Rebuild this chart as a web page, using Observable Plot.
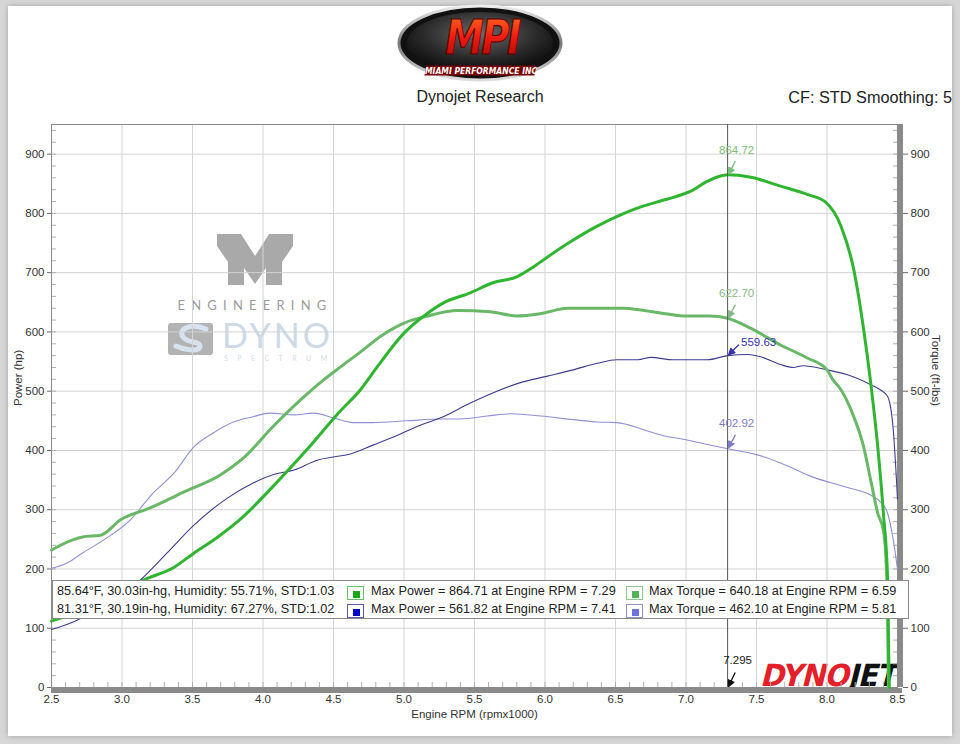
<!DOCTYPE html>
<html>
<head>
<meta charset="utf-8">
<script src="https://cdn.jsdelivr.net/npm/d3@7"></script>
<script src="https://cdn.jsdelivr.net/npm/@observablehq/plot@0.6"></script>
<style>
html,body{margin:0;padding:0;background:#d6d6d6;}
#page{position:relative;width:960px;height:744px;overflow:hidden;font-family:"Liberation Sans",Arial,sans-serif;color:#222;}
#card{position:absolute;left:8px;top:6px;width:944px;height:730px;background:#fff;box-shadow:0 0 5px rgba(0,0,0,.25);}
#header{position:absolute;left:0;top:0;width:960px;height:120px;}
#title{position:absolute;left:0;width:960px;top:88px;text-align:center;font-size:16px;}
#cf{position:absolute;right:8px;top:88px;font-size:16.3px;}
#watermark{position:absolute;left:0;top:0;}
#chart{position:absolute;left:0;top:120px;}
#legend{position:absolute;left:52px;top:580px;width:855px;height:37px;background:#fff;border:1px solid #8a8a8a;font-size:12.7px;color:#222;}
#legend span{position:absolute;white-space:nowrap;}
.sw{position:absolute;width:17px;height:14px;box-sizing:border-box;background:#fff;}
.sw i{position:absolute;left:5px;top:3.5px;width:7px;height:7px;}
#dynojet{position:absolute;left:758px;top:659px;font-family:"DejaVu Sans",sans-serif;font-weight:bold;font-size:29px;letter-spacing:-1px;transform:skewX(-14deg) scaleY(1.05);transform-origin:left bottom;}
</style>
</head>
<body>
<div id="page">
  <div id="card"></div>
  <div id="header">
    <svg width="170" height="82" style="position:absolute;left:396px;top:2px">
      <defs>
        <radialGradient id="gIn" cx="50%" cy="35%" r="65%"><stop offset="0" stop-color="#6a6a6a"/><stop offset="0.6" stop-color="#2a2a2a"/><stop offset="1" stop-color="#0a0a0a"/></radialGradient>
        <linearGradient id="gRed" x1="0" y1="0" x2="0" y2="1"><stop offset="0" stop-color="#ff7a20"/><stop offset="0.5" stop-color="#f01c10"/><stop offset="1" stop-color="#a00000"/></linearGradient>
        <linearGradient id="gRim" x1="0" y1="0" x2="0" y2="1"><stop offset="0" stop-color="#eee"/><stop offset="0.5" stop-color="#777"/><stop offset="1" stop-color="#ddd"/></linearGradient>
      </defs>
      <ellipse cx="84" cy="41" rx="81" ry="37" fill="#111" stroke="url(#gRim)" stroke-width="3"/>
      <ellipse cx="84" cy="41" rx="73" ry="31" fill="url(#gIn)"/>
      <text x="86" y="52" text-anchor="middle" font-family="DejaVu Sans" font-weight="bold" font-style="italic" font-size="44" fill="url(#gRed)" stroke="#5a0000" stroke-width="1" transform="translate(86 52) scale(0.88 1.1) translate(-86 -52)" letter-spacing="-3">MPI</text>
      <rect x="30" y="63.5" width="110" height="10" fill="#7a0000" transform="skewX(-12) translate(14 0)"/>
      <text x="85" y="72.5" text-anchor="middle" font-family="DejaVu Sans" font-weight="bold" font-style="italic" font-size="8.5" fill="#fff" transform="translate(85 72) scale(0.9 1) translate(-85 -72)">MIAMI PERFORMANCE INC</text>
    </svg>
    <div id="title">Dynojet Research</div>
    <div id="cf">CF: STD Smoothing: 5</div>
  </div>
  <svg id="watermark" width="960" height="744">
    <polygon points="217,234 241,234 255,256 269,234 293,234 293,246 282,262 282,285 266,285 266,268 255,284 244,268 244,285 228,285 228,262 217,246" fill="#a9a9a9"/>
    <text x="255" y="310" text-anchor="middle" font-family="Lato,'Liberation Sans',sans-serif" font-size="13" letter-spacing="6.2" fill="#9b9b9b">ENGINEERING</text>
    <rect x="168" y="323" width="45" height="32" rx="3" fill="#b3b3b3"/>
    <path d="M206,329 C190,322 176,330 184,338 C190,344 200,340 200,347 C198,352 184,350 176,346" fill="none" stroke="#d6e2ee" stroke-width="5" stroke-linecap="round"/>
    <text x="222" y="348" font-family="Lato,'Liberation Sans',sans-serif" font-size="34" letter-spacing="3" fill="#cdd9e6">DYNO</text>
    <text x="224" y="361" font-family="Lato,'Liberation Sans',sans-serif" font-size="7" letter-spacing="9.5" fill="#d2dde8">SPECTRUM</text>
  </svg>
  <div id="dynojet"><span style="color:#e3202a">DYNO</span><span style="color:#111">JET</span></div>
  <div id="chart"></div>
  <div id="legend"></div>
</div>
<script>
// ---- data ----
const xTicks = [2.5, 3.0, 3.5, 4.0, 4.5, 5.0, 5.5, 6.0, 6.5, 7.0, 7.5, 8.0, 8.5];
const yTicks = [0, 100, 200, 300, 400, 500, 600, 700, 800, 900];

// Run 1 power (hp) - bright green
const p1Rpm = [2.5, 2.6, 2.75, 2.9, 3.0, 3.15, 3.37, 3.5, 3.68, 3.84, 4.07, 4.31, 4.55, 4.69, 4.81, 5.0, 5.17, 5.28, 5.47, 5.63, 5.8, 5.92, 6.04, 6.18, 6.35, 6.54, 6.68, 6.82, 6.91, 7.03, 7.15, 7.295, 7.46, 7.67, 7.86, 7.99, 8.1, 8.19, 8.26, 8.31, 8.36, 8.4, 8.43, 8.437, 8.442];
const p1Hp  = [112, 120, 135, 150, 162, 181, 203, 225, 254, 284, 339, 401, 467, 502, 541, 598, 632, 649, 666, 683, 693, 710, 730, 752, 776, 798, 811, 821, 827, 837, 854, 865, 861, 846, 832, 819, 778, 705, 604, 514, 406, 294, 181, 68, 0];

// Run 1 torque (ft-lbs) - medium green
const t1Rpm = [2.5, 2.65, 2.72, 2.85, 2.99, 3.2, 3.44, 3.7, 3.86, 4.07, 4.27, 4.43, 4.55, 4.69, 4.83, 5.0, 5.17, 5.38, 5.61, 5.8, 5.97, 6.16, 6.35, 6.56, 6.68, 6.82, 6.98, 7.17, 7.295, 7.46, 7.67, 7.86, 8.0, 8.04, 8.1, 8.18, 8.26, 8.31, 8.36, 8.4, 8.42, 8.43, 8.435];
const t1Tq  = [232, 249, 254, 257, 283, 303, 330, 359, 387, 440, 486, 519, 541, 566, 592, 615, 627, 636, 634, 627, 631, 640, 640, 640, 637, 632, 627, 627, 623, 606, 578, 556, 536, 520, 502, 463, 406, 350, 294, 265, 210, 125, 0];

// Run 2 power (hp) - navy
const p2Rpm = [2.5, 2.65, 2.72, 2.85, 3.0, 3.13, 3.32, 3.51, 3.75, 3.93, 4.07, 4.22, 4.39, 4.5, 4.62, 4.78, 4.93, 5.12, 5.26, 5.47, 5.63, 5.82, 6.01, 6.2, 6.37, 6.51, 6.66, 6.75, 6.91, 7.15, 7.295, 7.44, 7.53, 7.67, 7.76, 7.83, 8.0, 8.14, 8.31, 8.38, 8.43, 8.47, 8.5];
const p2Hp  = [98, 110, 118, 135, 155, 181, 227, 274, 320, 345, 359, 367, 384, 389, 394, 409, 423, 443, 455, 480, 497, 514, 525, 536, 547, 553, 553, 557, 553, 553, 560, 562, 558, 545, 540, 543, 536, 528, 511, 502, 491, 435, 318];

// Run 2 torque (ft-lbs) - lavender
const t2Rpm = [2.5, 2.61, 2.72, 2.89, 3.06, 3.22, 3.37, 3.51, 3.65, 3.79, 3.93, 4.05, 4.22, 4.36, 4.5, 4.64, 4.78, 5.02, 5.26, 5.4, 5.59, 5.76, 5.97, 6.2, 6.37, 6.51, 6.7, 6.82, 7.0, 7.15, 7.295, 7.5, 7.67, 7.9, 8.14, 8.33, 8.38, 8.43, 8.47, 8.5];
const t2Tq  = [201, 210, 227, 252, 283, 328, 362, 406, 430, 448, 457, 463, 460, 463, 455, 447, 447, 450, 453, 453, 458, 462, 458, 452, 448, 447, 435, 426, 418, 410, 403, 393, 379, 355, 338, 322, 313, 294, 249, 200];

const cursorRpm = 7.295;
const peakLabels = ["864.72", "622.70", "559.63", "402.92"];
const peakValues = [864.72, 622.70, 559.63, 402.92];

const weatherRows = ["85.64°F, 30.03in-hg, Humidity: 55.71%, STD:1.03", "81.31°F, 30.19in-hg, Humidity: 67.27%, STD:1.02"];
const maxPowerRows = ["Max Power = 864.71 at Engine RPM = 7.29", "Max Power = 561.82 at Engine RPM = 7.41"];
const maxTorqueRows = ["Max Torque = 640.18 at Engine RPM = 6.59", "Max Torque = 462.10 at Engine RPM = 5.81"];

// ---- styles ----
const C = {p1: "#2fb52f", t1: "#68b868", p2: "#3d3d8e", t2: "#9090d2"};
const rows = (xs, ys) => xs.map((x, i) => ({rpm: x, v: ys[i]}));
const minorY = d3.range(0, 951, 20);
const minorX = d3.range(2.5, 8.51, 0.1);

const arrowShape = {
  draw(ctx, l) {
    ctx.moveTo(0, 0); ctx.lineTo(0, -l + 5);
    ctx.moveTo(-3, -l + 6); ctx.lineTo(3, -l + 6); ctx.lineTo(0, -l); ctx.closePath();
  }
};
const pk = (i) => [{rpm: cursorRpm, v: peakValues[i], label: peakLabels[i]}];
const annot = (i, color, dx, dy, rot) => [
  Plot.text(pk(i), {x: "rpm", y: "v", text: "label", fill: color, dx, dy, fontSize: 11.5}),
  Plot.vector(pk(i), {x: "rpm", y: "v", anchor: "end", rotate: rot, length: 14, shape: arrowShape, stroke: color, fill: color, strokeWidth: 1.3, dx: 1, dy: -1})
];

const chart = Plot.plot({
  width: 960, height: 624,
  marginLeft: 51, marginRight: 63, marginTop: 4, marginBottom: 57,
  style: {background: "transparent", fontFamily: '"Liberation Sans", Arial, sans-serif', fontSize: "11.5px", color: "#333"},
  x: {domain: [2.5, 8.5]},
  y: {domain: [0, 950]},
  marks: [
    Plot.gridX(xTicks, {stroke: "#d4d4d4", strokeOpacity: 1}),
    Plot.gridY(yTicks, {stroke: "#d4d4d4", strokeOpacity: 1}),
    Plot.axisY(minorY, {anchor: "left", tickSize: -5, tickFormat: () => "", stroke: "#b0b0b0", label: null}),
    Plot.axisY(minorY, {anchor: "right", tickSize: -5, tickFormat: () => "", stroke: "#b0b0b0", label: null}),
    Plot.axisX(minorX, {anchor: "bottom", tickSize: -5, tickFormat: () => "", stroke: "#b0b0b0", label: null}),
    Plot.axisY(yTicks, {anchor: "left", tickSize: 4, tickPadding: 3, label: null, stroke: "#666"}),
    Plot.axisY(yTicks, {anchor: "right", tickSize: 5, tickPadding: 3, dx: 5, label: null, stroke: "#666"}),
    Plot.axisX(xTicks, {anchor: "bottom", tickSize: 0, tickPadding: 7, tickFormat: d => d.toFixed(1), label: null}),
    Plot.frame({stroke: "#8a8a8a"}),
    Plot.ruleX([8.5], {stroke: "#8a8a8a", strokeWidth: 5, dx: 3}),
    Plot.ruleY([0], {stroke: "#8a8a8a", strokeWidth: 5, dy: 3, insetRight: -5}),
    Plot.line(rows(t2Rpm, t2Tq), {x: "rpm", y: "v", stroke: C.t2, strokeWidth: 1.1, curve: "monotone-x"}),
    Plot.line(rows(p2Rpm, p2Hp), {x: "rpm", y: "v", stroke: C.p2, strokeWidth: 1.1, curve: "monotone-x"}),
    Plot.line(rows(t1Rpm, t1Tq), {x: "rpm", y: "v", stroke: C.t1, strokeWidth: 3, curve: "monotone-x"}),
    Plot.line(rows(p1Rpm, p1Hp), {x: "rpm", y: "v", stroke: C.p1, strokeWidth: 3, curve: "monotone-x"}),
    Plot.ruleX([cursorRpm], {stroke: "#555", strokeWidth: 1}),
    ...annot(0, "#79c079", 9, -25, 208),
    ...annot(1, "#86b886", 9, -25, 208),
    ...annot(2, "#3434b4", 31, -14, 225),
    ...annot(3, "#7c7cc6", 9, -25, 208),
    Plot.text([{rpm: cursorRpm, v: 0, label: "7.295"}], {x: "rpm", y: "v", text: "label", fill: "#222", dx: 10, dy: -27, fontSize: 11.5}),
    Plot.vector([{rpm: cursorRpm, v: 0}], {x: "rpm", y: "v", anchor: "end", rotate: 205, length: 15, shape: arrowShape, stroke: "#111", fill: "#111", strokeWidth: 1.3, dx: 1, dy: -1}),
    Plot.text(["Power (hp)"], {frameAnchor: "left", dx: -33, rotate: -90, fontSize: 11.5, fill: "#333"}),
    Plot.text(["Torque (ft-lbs)"], {frameAnchor: "right", dx: 38, rotate: 90, fontSize: 11.5, fill: "#333"}),
    Plot.text(["Engine RPM (rpmx1000)"], {frameAnchor: "bottom", dy: 30, fontSize: 11.5, fill: "#333"})
  ]
});
document.getElementById("chart").appendChild(chart);

// ---- legend box ----
const lg = document.getElementById("legend");
const swColors = [["#66c266", "#1aa51a", "#8fc88f", "#55b355"], ["#5a5aa8", "#0000c8", "#8f8fcc", "#7070dc"]];
[0, 1].forEach(r => {
  const top = r === 0 ? 4 : 22;
  const add = (txt, left) => { const s = document.createElement("span"); s.style.left = left + "px"; s.style.top = (top - 1) + "px"; s.textContent = txt; lg.appendChild(s); };
  add(weatherRows[r], 4);
  add(maxPowerRows[r], 318);
  add(maxTorqueRows[r], 596);
  [[294, 0], [573, 2]].forEach(([left, k]) => {
    const b = document.createElement("div"); b.className = "sw";
    b.style.left = left + "px"; b.style.top = (top + 1) + "px"; b.style.border = "1px solid " + swColors[r][k];
    const i = document.createElement("i"); i.style.background = swColors[r][k + 1]; b.appendChild(i);
    lg.appendChild(b);
  });
});
</script>
</body>
</html>
